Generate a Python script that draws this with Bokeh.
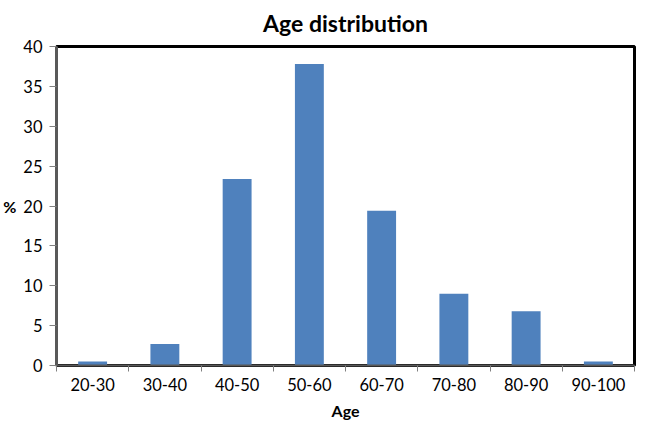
from bokeh.plotting import figure
from bokeh.models import FixedTicker, Range1d, ColumnDataSource
from bokeh.embed import file_html
from bokeh.resources import INLINE

title_text = "Age distribution"
categories = ["20-30", "30-40", "40-50", "50-60", "60-70", "70-80", "80-90", "90-100"]
percent = [0.5, 2.7, 23.4, 37.8, 19.4, 9.0, 6.8, 0.5]
y_ticks = [0, 5, 10, 15, 20, 25, 30, 35, 40]

idx = list(range(len(categories)))
centers = [i + 0.5 for i in idx]
src = ColumnDataSource(dict(x=centers, top=percent, cat=categories))

FONT = "Lato"

p = figure(frame_width=578, frame_height=319, output_backend="svg", toolbar_location=None,
           x_range=Range1d(0, len(categories)), y_range=Range1d(0, 40),
           title=title_text, min_border_right=2, min_border_top=0, min_border_left=4,
           min_border_bottom=4)
p.vbar(x="x", top="top", width=0.4, source=src, fill_color="#4F81BD", line_color=None)

p.title.text_font = FONT
p.title.text_font_size = "23px"
p.title.text_font_style = "bold"
p.title.align = "center"
p.title.vertical_align = "top"
p.title.text_color = "black"
p.title.offset = -17
p.title.standoff = 16

p.outline_line_color = "black"
p.outline_line_width = 3
p.outline_line_alpha = 1
p.xgrid.visible = False
p.ygrid.visible = False
p.background_fill_color = "white"
p.border_fill_color = "white"

xa = p.xaxis[0]
xa.ticker = FixedTicker(ticks=centers, minor_ticks=[float(i) for i in range(len(categories) + 1)])
xa.major_label_overrides = {c: lab for c, lab in zip(centers, categories)}
xa.major_tick_out = 0
xa.major_tick_in = 0
xa.minor_tick_out = 6
xa.minor_tick_in = 0
xa.minor_tick_line_color = "#808080"
xa.axis_line_color = "#595959"
xa.axis_line_width = 2
xa.major_label_text_font = FONT
xa.major_label_text_font_size = "16.5px"
xa.major_label_text_color = "black"
xa.major_label_standoff = 6
xa.axis_label = "Age"
xa.axis_label_text_font = FONT
xa.axis_label_text_font_size = "16px"
xa.axis_label_text_font_style = "bold"
xa.axis_label_text_color = "black"
xa.axis_label_standoff = 7

ya = p.yaxis[0]
ya.ticker = FixedTicker(ticks=y_ticks)
ya.minor_tick_line_color = None
ya.major_tick_out = 7
ya.major_tick_in = 0
ya.major_tick_line_color = "#808080"
ya.axis_line_color = "#595959"
ya.axis_line_width = 3
ya.major_label_text_font = FONT
ya.major_label_text_font_size = "16.5px"
ya.major_label_text_color = "black"
ya.major_label_standoff = 7
ya.axis_label = "%"
ya.axis_label_text_font = FONT
ya.axis_label_text_font_size = "16px"
ya.axis_label_text_font_style = "bold"
ya.axis_label_text_color = "black"
ya.axis_label_orientation = "horizontal"
ya.axis_label_standoff = 4

open("out.html", "w").write(file_html(p, INLINE))
